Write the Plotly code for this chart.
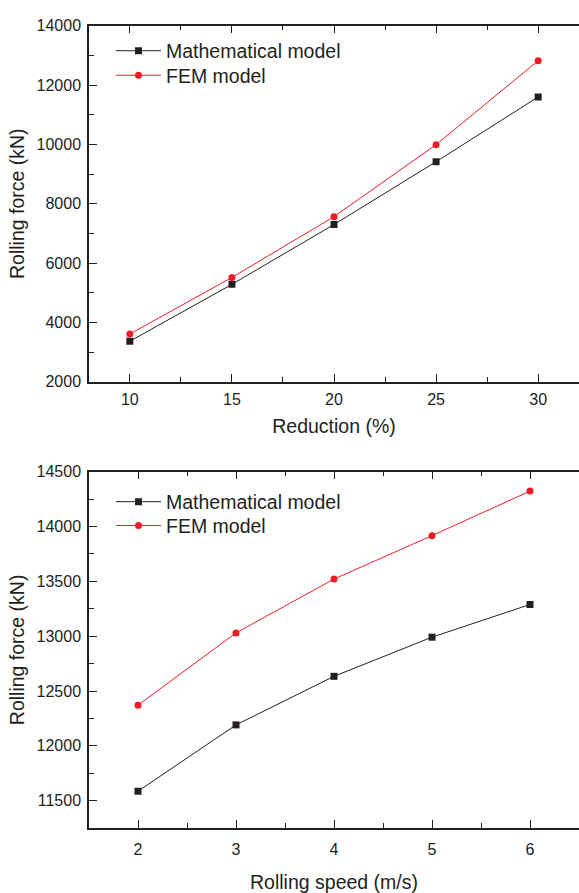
import plotly.graph_objects as go

# Top panel data
reduction = [10, 15, 20, 25, 30]
math_reduction = [3365, 5283, 7299, 9415, 11597]
fem_reduction = [3610, 5514, 7564, 9990, 12820]

# Bottom panel data
speed = [2, 3, 4, 5, 6]
math_speed = [11586, 12191, 12634, 12991, 13289]
fem_speed = [12371, 13030, 13521, 13917, 14323]

BLACK = "#231f20"
RED = "#ee1c25"
FONT = "Liberation Sans, Arial, sans-serif"

fig = go.Figure()

fig.add_trace(go.Scatter(x=reduction, y=math_reduction, mode="lines+markers",
                         name="Mathematical model", line=dict(color=BLACK, width=1),
                         marker=dict(symbol="square", size=7, color=BLACK),
                         xaxis="x", yaxis="y", legend="legend", showlegend=True))
fig.add_trace(go.Scatter(x=reduction, y=fem_reduction, mode="lines+markers",
                         name="FEM model", line=dict(color=RED, width=1),
                         marker=dict(symbol="circle", size=7, color=RED),
                         xaxis="x", yaxis="y", legend="legend2", showlegend=True))
fig.add_trace(go.Scatter(x=speed, y=math_speed, mode="lines+markers",
                         name="Mathematical model", line=dict(color=BLACK, width=1),
                         marker=dict(symbol="square", size=7, color=BLACK),
                         xaxis="x2", yaxis="y2", legend="legend3", showlegend=True))
fig.add_trace(go.Scatter(x=speed, y=fem_speed, mode="lines+markers",
                         name="FEM model", line=dict(color=RED, width=1),
                         marker=dict(symbol="circle", size=7, color=RED),
                         xaxis="x2", yaxis="y2", legend="legend4", showlegend=True))

H = 893.0
W = 579.0
x0 = 89 / W

axis_common = dict(showline=True, linecolor=BLACK, linewidth=1.5,
                   ticks="inside", ticklen=8, tickwidth=1, tickcolor=BLACK,
                   showgrid=False, zeroline=False, tickformat="d",
                   tickfont=dict(family=FONT, size=16, color=BLACK),
                   title_font=dict(family=FONT, size=19.5, color=BLACK))


def leg(top_px):
    return dict(x=111 / W, y=1 - top_px / H, xanchor="left", yanchor="top",
                bgcolor="rgba(0,0,0,0)", font=dict(family=FONT, size=19.5, color=BLACK),
                itemwidth=45, visible=True)


fig.update_layout(
    width=579, height=893,
    margin=dict(l=0, r=0, t=0, b=0),
    paper_bgcolor="white", plot_bgcolor="white",
    showlegend=True,
    font=dict(family=FONT, color=BLACK),
    xaxis=dict(domain=[x0, 1.0], range=[8, 32], anchor="y", tickvals=reduction,
               mirror="ticks",
               minor=dict(ticks="inside", ticklen=5, dtick=2.5, tick0=7.5, tickcolor=BLACK),
               ticklabelstandoff=2,
               title=dict(text="Reduction (%)", standoff=13), **axis_common),
    yaxis=dict(domain=[1 - 381 / H, 1 - 18 / H], range=[2000, 14000], anchor="x",
               dtick=2000, tick0=2000, ticklabelstandoff=3, mirror=False,
               minor=dict(ticks="inside", ticklen=5, dtick=1000, tickcolor=BLACK),
               title=dict(text="Rolling force (kN)", standoff=7), **axis_common),
    xaxis2=dict(domain=[x0, 1.0], range=[1.5, 6.5], anchor="y2", tickvals=speed,
                mirror="ticks",
                minor=dict(ticks="inside", ticklen=5, dtick=0.5, tick0=1.5, tickcolor=BLACK),
                ticklabelstandoff=6,
                title=dict(text="Rolling speed (m/s)", standoff=20), **axis_common),
    yaxis2=dict(domain=[1 - 836 / H, 1 - 472.7 / H], range=[11250, 14500], anchor="x2",
                dtick=500, tick0=11500, ticklabelstandoff=3, mirror=False,
                minor=dict(ticks="inside", ticklen=5, dtick=250, tickcolor=BLACK),
                title=dict(text="Rolling force (kN)", standoff=7), **axis_common),
    legend=leg(24),
    legend2=leg(49),
    legend3=leg(483.7),
    legend4=leg(508),
)

fig.write_html("out.html")
